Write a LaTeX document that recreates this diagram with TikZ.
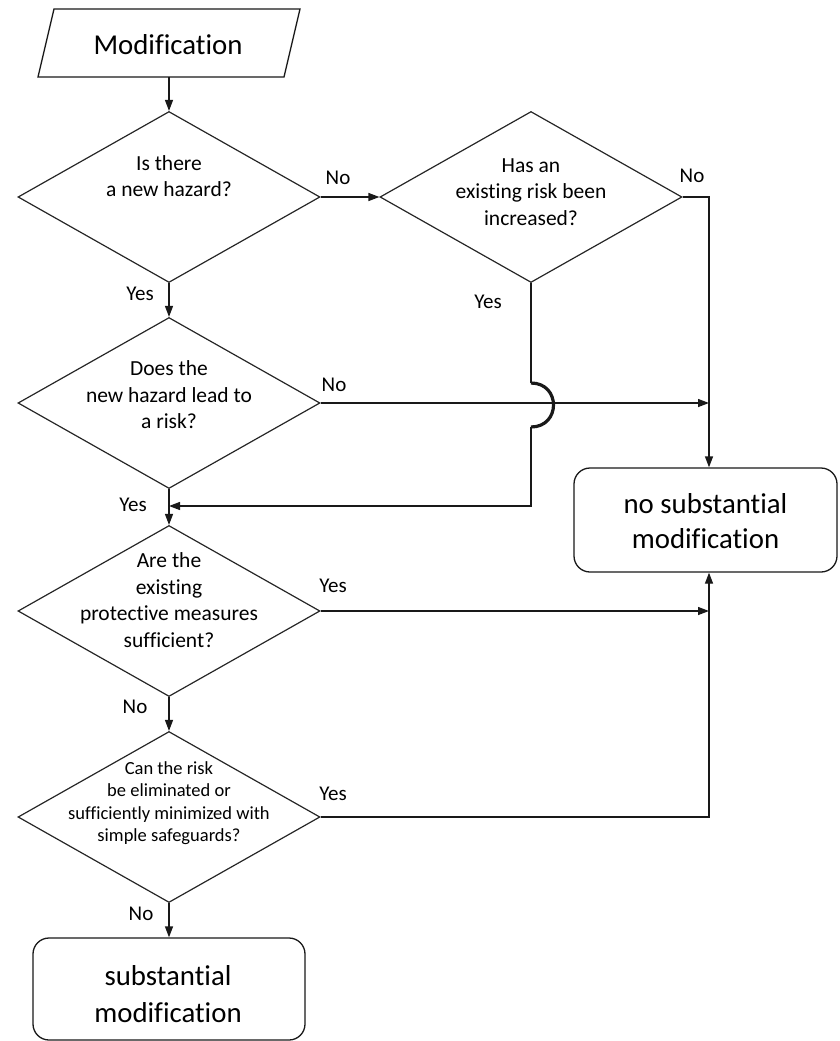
\documentclass[tikz,border=0pt]{standalone}
\usepackage{fontspec}
\setmainfont{Carlito}[Ligatures={NoCommon}, RawFeature={-calt;-clig;-liga;-rlig}]
\usetikzlibrary{shapes.geometric,arrows.meta,calc}
\begin{document}
\begin{tikzpicture}[x=1pt,y=-1pt,
  dia/.style={draw=black!85, line width=1.2pt, diamond, minimum width=302pt, minimum height=171pt, inner sep=0pt},
  qtext/.style={align=center, font=\fontsize{21.5}{26.5}\selectfont, inner sep=0pt},
  qsmall/.style={align=center, font=\fontsize{18.5}{22.5}\selectfont, inner sep=0pt},
  lbl/.style={font=\fontsize{21}{25}\selectfont, inner sep=0pt},
  conn/.style={line width=1.3pt, draw=black!90},
  arr/.style={conn, -{Triangle[length=11pt,width=8pt]}},
  jump/.style={line width=3.2pt, draw=black!90},
  endbox/.style={draw=black!90, line width=1.3pt, rounded corners=16pt, align=center, inner sep=0pt, font=\fontsize{28.8}{36}\selectfont},
  inbox/.style={rectangle, minimum width=246pt, minimum height=68pt, inner sep=0pt, outer sep=0pt, font=\fontsize{28.8}{34}\selectfont}
]
\useasboundingbox (0,0) rectangle (839,1041);

% shapes
\node[inbox] (mod) at (169,43) {};
\draw[conn, line join=miter] ($(mod.south west)+(-8,0)$) -- ($(mod.north west)+(8,0)$) -- ($(mod.north east)+(8,0)$) -- ($(mod.south east)+(-8,0)$) -- cycle;
\node[inner sep=0pt, font=\fontsize{28.8}{34}\selectfont] (modtxt) at (168,45) {Modification};

\node[dia] (d1) at (169,197) {};
\node[dia] (d2) at (531,197) {};
\node[dia] (d3) at (169,403) {};
\node[dia] (d4) at (169,611) {};
\node[dia] (d5) at (169,817) {};

\node[qtext] (t1) at (169,176) {Is there\\a new hazard?};
\node[qtext] (t2) at (531,192) {Has an\\existing risk been\\increased?};
\node[qtext] (t3) at (169,395) {Does the\\new hazard lead to\\a risk?};
\node[qtext] (t4) at (169,600) {Are the\\existing\\protective measures\\sufficient?};
\node[qsmall] (t5) at (169,803) {Can the risk\\be eliminated or\\sufficiently minimized with\\simple safeguards?};

\node[endbox, minimum width=263pt, minimum height=104pt] (nosub) at (705.5,520) {};
\node[inner sep=0pt, align=center, font=\fontsize{28.8}{35}\selectfont] (nosubtxt) at (705.5,521) {no substantial\\modification};
\node[endbox, minimum width=272pt, minimum height=102pt] (sub) at (169,989) {};
\node[inner sep=0pt, align=center, font=\fontsize{28.8}{37}\selectfont] (subtxt) at (168,994) {substantial\\modification};

% helper coordinates
\coordinate (rx) at (709,0);
\coordinate (j1) at (531,383);
\coordinate (j2) at (531,427);
\coordinate (j3) at (531,506);

% connectors
\draw[arr] (mod.south) -- (d1.north);
\draw[arr] (d1.east) -- (d2.west);
\draw[arr] (d2.east) -| (nosub.north -| rx);
\draw[arr] (d1.south) -- (d3.north);
\draw[arr] (d3.east) -- (d3.east -| rx);
\draw[conn] (d2.south) -- (j1);
\draw[jump] (j1) .. controls (561,383) and (561,427) .. (j2);
\draw[arr] (j2) -- (j3) -- (j3 -| d3.south);
\draw[arr] (d3.south) -- (d4.north);
\draw[arr] (d4.east) -- (d4.east -| rx);
\draw[arr] (d4.south) -- (d5.north);
\draw[arr] (d5.east) -| (nosub.south -| rx);
\draw[arr] (d5.south) -- (sub.north);

% labels
\node[lbl] (l1) at (338,178) {No};
\node[lbl] (l2) at (692,176) {No};
\node[lbl] (l3) at (140,294) {Yes};
\node[lbl] (l4) at (488,302) {Yes};
\node[lbl] (l5) at (334,385) {No};
\node[lbl] (l6) at (133,505) {Yes};
\node[lbl] (l7) at (333,586) {Yes};
\node[lbl] (l8) at (135,707) {No};
\node[lbl] (l9) at (333,794) {Yes};
\node[lbl] (l10) at (141,914) {No};
\end{tikzpicture}
\end{document}
